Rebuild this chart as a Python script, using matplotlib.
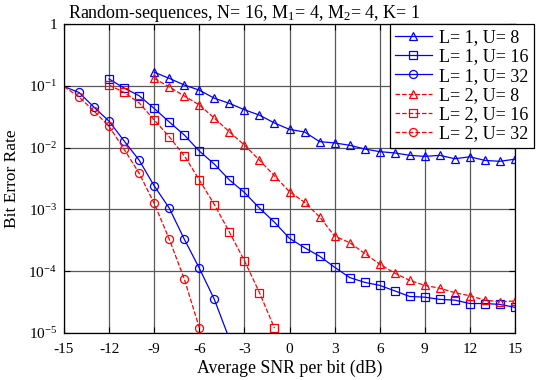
import numpy as np
import matplotlib
matplotlib.use("Agg")
import matplotlib.pyplot as plt

plt.rcParams['font.family'] = ['Liberation Serif', 'DejaVu Serif']
plt.rcParams['mathtext.fontset'] = 'custom'
plt.rcParams['mathtext.rm'] = 'Liberation Serif'
plt.rcParams['mathtext.it'] = 'Liberation Serif:italic'
plt.rcParams['axes.unicode_minus'] = False

# SNR grids (dB)
snr_u8 = list(range(-9, 16))
snr_u16_l1 = list(range(-12, 16))
snr_u32 = list(range(-15, -3))
snr_u16_l2 = list(range(-12, 0))
snr_u32_l2 = list(range(-15, -5))

# L=1
ber_l1_u8 = [0.166, 0.132, 0.103, 0.085, 0.063, 0.052, 0.041, 0.0335, 0.025, 0.0197,
             0.0179, 0.0125, 0.0119, 0.0109, 0.0095, 0.0086, 0.0082, 0.0075, 0.0072,
             0.0075, 0.0066, 0.0071, 0.0062, 0.0060, 0.0065]
ber_l1_u16 = [0.129, 0.092, 0.069, 0.043, 0.026, 0.016, 0.0088, 0.0054, 0.0030, 0.00188,
              1.05e-3, 6.2e-4, 3.4e-4, 2.4e-4, 1.75e-4, 1.16e-4, 7.9e-5, 6.6e-5, 5.9e-5,
              4.8e-5, 3.9e-5, 3.8e-5, 3.5e-5, 3.4e-5, 3.0e-5, 3.0e-5, 2.9e-5, 2.6e-5]
ber_l1_u32 = [0.097, 0.078, 0.045, 0.0267, 0.0128, 6.25e-3, 2.4e-3, 1.05e-3, 3.3e-4,
              1.12e-4, 3.5e-5, 8.0e-6]

# L=2
ber_l2_u8 = [0.132, 0.096, 0.0686, 0.049, 0.030, 0.018, 0.011, 6.25e-3, 3.5e-3, 1.93e-3,
             1.3e-3, 7.6e-4, 3.7e-4, 2.9e-4, 1.94e-4, 1.3e-4, 9.3e-5, 7.1e-5, 5.9e-5,
             5.3e-5, 4.5e-5, 4.0e-5, 3.4e-5, 3.2e-5, 3.3e-5]
ber_l2_u16 = [0.1026, 0.078, 0.053, 0.028, 0.015, 7.4e-3, 3.0e-3, 1.2e-3, 4.3e-4,
              1.48e-4, 4.5e-5, 1.2e-5]
ber_l2_u32 = [0.097, 0.066, 0.039, 0.022, 9.4e-3, 3.85e-3, 1.25e-3, 3.3e-4, 7.5e-5,
              1.22e-5]

fig = plt.figure(figsize=(5.41, 3.8), dpi=100)
ax = fig.add_axes([64 / 541, 1 - 333 / 380, 451 / 541, 309 / 380])

kw = dict(lw=0.9, ms=5.8, mfc='none', mew=0.9)
ax.plot(snr_u8, ber_l1_u8, '-^', color='blue', label='L= 1, U= 8', **kw)
ax.plot(snr_u16_l1, ber_l1_u16, '-s', color='blue', label='L= 1, U= 16', **kw)
ax.plot(snr_u32, ber_l1_u32, '-o', color='blue', label='L= 1, U= 32',
        markevery=slice(1, None), **kw)
ax.plot(snr_u8, ber_l2_u8, '--^', color='red', label='L= 2, U= 8', **kw)
ax.plot(snr_u16_l2, ber_l2_u16, '--s', color='red', label='L= 2, U= 16', **kw)
ax.plot(snr_u32_l2, ber_l2_u32, '--o', color='red', label='L= 2, U= 32',
        markevery=slice(1, None), **kw)

ax.set_yscale('log')
ax.set_xlim(-15, 15)
ax.set_ylim(1e-5, 1)
ax.set_xticks(range(-15, 16, 3))
ax.set_yticks([1e-5, 1e-4, 1e-3, 1e-2, 1e-1, 1])
ax.set_yticklabels(['10$^{-5}$', '10$^{-4}$', '10$^{-3}$', '10$^{-2}$', '10$^{-1}$', '1'])
ax.minorticks_off()
ax.tick_params(direction='in', labelsize=11, top=True, right=True, length=4)
ax.tick_params(axis='x', pad=7)
ax.tick_params(axis='y', pad=5)
ax.grid(True, color='0.35', lw=0.9)
for s in ax.spines.values():
    s.set_linewidth(0.9)

ax.set_xlabel('Average SNR per bit (dB)', fontsize=12.8, labelpad=3)
ax.set_ylabel('Bit Error Rate', fontsize=12.5, labelpad=6)
fig.text(68 / 541, 1 - 18 / 380, 'Random-sequences, N= 16, M$_1$= 4, M$_2$= 4, K= 1',
         fontsize=13, va='baseline', ha='left')

leg = ax.legend(loc='upper left', bbox_to_anchor=(390 / 541, 1 - 24 / 380),
                bbox_transform=fig.transFigure, fontsize=13, fancybox=False,
                edgecolor='black', framealpha=1, borderpad=0.3, labelspacing=0.12,
                handlelength=2.0, handletextpad=0.4, borderaxespad=0)
leg.get_frame().set_linewidth(0.9)

fig.savefig('out.png', dpi=100)
